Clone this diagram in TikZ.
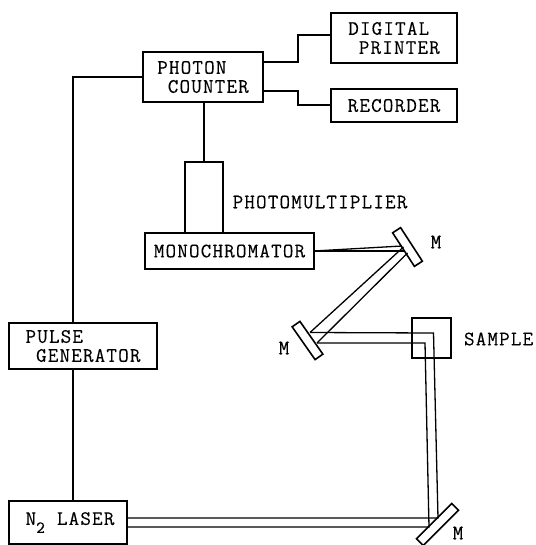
\documentclass[tikz,border=0pt]{standalone}
\usepackage{fontspec}
\setmonofont[LetterSpace=5.7,FakeBold=0.2]{Latin Modern Mono}
\tikzset{
  box/.style={draw,line width=1.7pt,inner sep=0pt,outer sep=0pt,align=left,font=\ttfamily\fontsize{20.5}{19}\selectfont},
  mirror/.style={draw,line width=1.6pt,inner sep=0pt,outer sep=0pt,minimum height=9.5pt},
  lab/.style={inner sep=0pt,outer sep=0pt,font=\ttfamily\fontsize{20.5}{19}\selectfont},
  wire/.style={line width=1.6pt},
  beam/.style={line width=1.3pt}
}
\newcommand{\ind}{\phantom{X}}
\begin{document}
\begin{tikzpicture}[x=1pt,y=-1pt]
\useasboundingbox (0,0) rectangle (535,545);
% boxes
\node[box,minimum width=120pt,minimum height=50pt] (pc) at (203,77) {PHOTON\\\ind COUNTER};
\node[box,minimum width=126pt,minimum height=49.5pt] (dp) at (394,38) {DIGITAL\\\ind PRINTER};
\node[box,minimum width=126pt,minimum height=33pt] (rec) at (394,105.5) {RECORDER};
\node[box,minimum width=38pt,minimum height=71pt] (pmt) at (204,197.5) {};
\node[box,minimum width=169pt,minimum height=36pt] (mono) at (229.5,251) {MONOCHROMATOR};
\node[box,minimum width=39pt,minimum height=40pt] (sam) at (431.5,338) {};
\node[box,minimum width=148pt,minimum height=46pt] (pg) at (83,346) {PULSE\\\ind GENERATOR};
\node[box,minimum width=118pt,minimum height=43pt] (las) at (68,522.5) {\hspace{4pt}\raisebox{-3.5pt}{N\raisebox{-8pt}{\fontsize{17}{17}\selectfont 2}\hspace{12pt}LASER}};
% mirrors
\node[mirror,minimum width=40pt,rotate=-57] (m1) at (407.5,247) {};
\node[mirror,minimum width=40pt,rotate=-55] (m2) at (307.5,340.5) {};
\node[mirror,minimum width=50pt,rotate=45] (m3) at (437.5,524.5) {};
% labels
\node[lab] (lpmt) at (320,202) {PHOTOMULTIPLIER};
\node[lab] (lm1) at (436,242) {M};
\node[lab] (lm2) at (284,348) {M};
\node[lab] (lm3) at (458,533) {M};
\node[lab,anchor=west] (lsam) at (464,339) {SAMPLE};
% wires
\coordinate (j1) at (298,35);
\coordinate (j2) at (298,105);
\coordinate (j3) at (73,77);
\draw[wire] ([yshift=15pt]pc.east) -| (j1) -- (j1 -| dp.west);
\draw[wire] ([yshift=-14pt]pc.east) -| (j2) -- (j2 -| rec.west);
\draw[wire] (pc.west) -- (j3) -- (j3 |- pg.north);
\draw[wire] (pc.south -| pmt.north) -- (pmt.north);
\draw[wire] (pg.south -| j3) -- (j3 |- las.north);
% beams
\coordinate (a0) at (mono.east);
\coordinate (a1) at (402,246);
\coordinate (a2) at (404.5,251);
\coordinate (b1) at (403.5,247);
\coordinate (b2) at (407.5,253);
\coordinate (c1) at (310,332.5);
\coordinate (c2) at (317,343);
\coordinate (d1) at (433.5,333);
\coordinate (d2) at (425,343);
\coordinate (e1) at (438,518);
\coordinate (e2) at (429,527);
\draw[beam] (a0) -- (a1);
\draw[beam] (a0) -- (a2);
\draw[beam] (b1) -- (c1);
\draw[beam] (b2) -- (c2);
\draw[beam] (c1) -- (d1) -- (e1) -- (e1 -| las.east);
\draw[beam] (c2) -- (d2) -- (e2) -- (e2 -| las.east);
\end{tikzpicture}
\end{document}
